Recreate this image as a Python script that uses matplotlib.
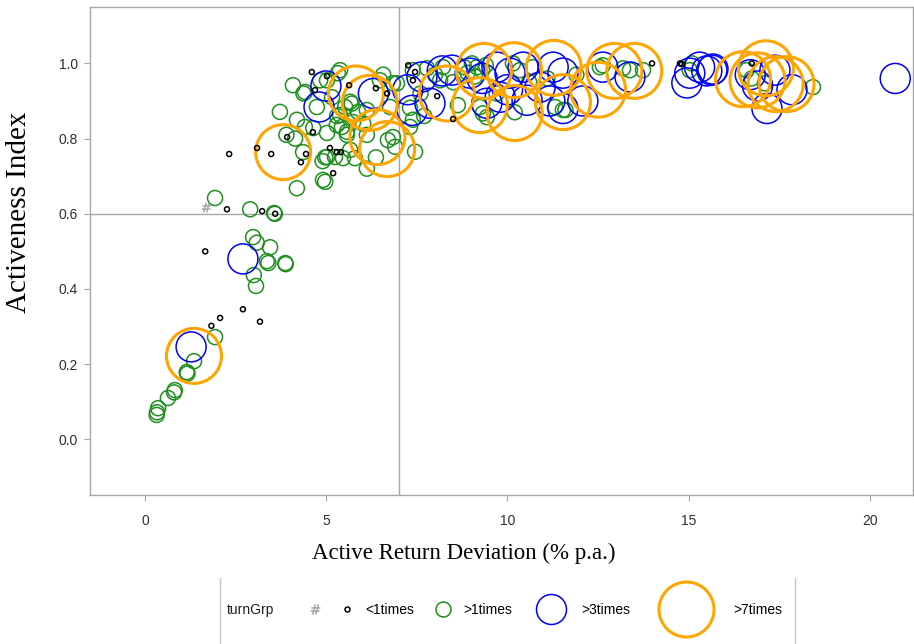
import numpy as np
import matplotlib
matplotlib.use('Agg')
import matplotlib.pyplot as plt
from matplotlib.lines import Line2D

# turnGrp groups: (active return deviation, activeness index)
miss_x = [1.68]
miss_y = [0.618]

lt1_x = [1.66, 1.83, 2.07, 2.70, 3.17, 2.26, 3.23, 3.59, 5.19, 2.32, 3.09, 3.48,
         3.92, 4.44, 4.30, 5.10, 5.29, 5.40, 4.60, 5.02, 5.63, 4.69, 6.37, 4.63,
         6.68, 7.26, 7.45, 7.39, 8.06, 8.50, 13.99, 14.76, 14.81, 16.74]
lt1_y = [0.500, 0.302, 0.323, 0.346, 0.313, 0.612, 0.607, 0.600, 0.708, 0.759, 0.775, 0.759,
         0.804, 0.759, 0.737, 0.775, 0.764, 0.764, 0.977, 0.966, 0.942, 0.929, 0.934, 0.817,
         0.920, 0.995, 0.977, 0.955, 0.913, 0.852, 1.000, 1.000, 0.998, 1.000]

gt1_x = [0.33, 0.36, 0.32, 0.63, 0.82, 0.80, 1.15, 1.17, 1.35, 1.93,
         2.98, 3.08, 3.45, 3.36, 3.40, 3.87, 3.88, 3.00, 3.06,
         2.90, 1.93, 3.56, 3.58, 4.19, 4.97,
         4.08, 4.41, 3.72, 4.19, 4.41, 4.64, 4.74, 5.02, 5.32, 5.16, 5.38, 5.29,
         5.57, 5.66, 5.88, 5.74, 6.02, 6.12, 6.48, 6.57, 6.76, 6.70, 6.90, 5.02,
         5.24, 4.36, 5.79, 6.12, 5.66, 6.37, 4.14, 3.90, 4.90, 4.37, 5.02, 5.30,
         5.52, 5.70, 5.43, 5.57, 6.12, 4.97, 5.46, 4.91, 5.38, 6.84, 4.83,
         6.95, 7.39, 7.78, 7.31, 7.39, 7.31, 7.45, 6.84, 8.22, 8.14, 8.63, 9.02,
         9.16, 9.30, 9.24, 9.32, 9.43, 10.20, 10.15, 10.34, 10.70, 11.53, 11.31, 12.63,
         13.19, 12.55, 13.38, 13.74, 15.09, 11.60, 15.03, 16.60, 16.74, 17.10, 18.43,
         8.90, 9.10, 9.40, 8.80, 7.60, 7.70, 8.00, 8.50, 9.70, 10.60, 11.10, 11.90]
gt1_y = [0.072, 0.083, 0.065, 0.110, 0.131, 0.125, 0.179, 0.175, 0.208, 0.272,
         0.538, 0.523, 0.511, 0.474, 0.469, 0.469, 0.466, 0.437, 0.408,
         0.612, 0.642, 0.602, 0.600, 0.668, 0.685,
         0.942, 0.924, 0.871, 0.850, 0.831, 0.828, 0.884, 0.955, 0.974, 0.910, 0.863, 0.836,
         0.818, 0.898, 0.871, 0.844, 0.840, 0.810, 0.955, 0.970, 0.884, 0.796, 0.778, 0.751,
         0.751, 0.764, 0.748, 0.720, 0.770, 0.750, 0.800, 0.810, 0.740, 0.920, 0.815, 0.860,
         0.884, 0.893, 0.831, 0.810, 0.876, 0.750, 0.748, 0.690, 0.982, 0.947, 0.955,
         0.947, 0.982, 0.987, 0.882, 0.850, 0.831, 0.765, 0.804, 0.990, 0.955, 0.889, 1.000,
         0.990, 0.982, 0.884, 0.867, 0.857, 0.870, 1.000, 0.982, 0.990, 0.876, 0.884, 0.995,
         0.987, 0.990, 0.982, 0.982, 1.000, 0.876, 0.982, 0.982, 0.960, 0.947, 0.937,
         0.975, 0.965, 0.995, 0.990, 0.920, 0.860, 0.970, 0.950, 0.920, 0.950, 0.960, 0.970]

gt3_x = [1.27, 2.70, 4.99, 4.80, 6.30, 7.64, 7.37, 7.86, 8.47, 8.97, 9.71, 10.07,
         9.80, 10.43, 10.54, 11.26, 11.53, 11.17, 12.08, 12.63, 13.38, 10.90, 9.43, 11.53,
         15.03, 15.30, 15.50, 15.67, 14.95, 15.64, 16.70, 17.38, 17.85, 17.16, 20.70, 16.90,
         7.25, 8.20, 9.30, 10.00]
gt3_y = [0.246, 0.480, 0.940, 0.884, 0.920, 0.964, 0.875, 0.894, 0.982, 0.974, 0.990, 0.974,
         0.910, 0.990, 0.902, 0.990, 0.974, 0.900, 0.900, 0.990, 0.964, 0.937, 0.894, 0.880,
         0.974, 0.990, 0.980, 0.985, 0.948, 0.982, 0.970, 0.982, 0.930, 0.880, 0.960, 0.940,
         0.930, 0.980, 0.960, 0.930]

gt7_x = [1.35, 3.81, 5.82, 6.20, 6.41, 6.68, 8.33, 9.35, 10.18, 10.20, 9.24, 11.28,
         11.53, 12.50, 12.95, 13.50, 16.50, 17.13, 16.90, 17.40, 17.70]
gt7_y = [0.222, 0.764, 0.920, 0.895, 0.804, 0.772, 0.920, 0.980, 0.982, 0.868, 0.889, 0.988,
         0.897, 0.930, 0.980, 0.980, 0.958, 0.987, 0.955, 0.945, 0.945]

group_labels = ['', '<1times', '>1times', '>3times', '>7times']

GRAY = '#a6a6a6'

fig = plt.figure(figsize=(9.14, 6.44), dpi=100)
ax = fig.add_axes([90/914, 149/644, 823/914, 488/644])

ax.axvline(7, color=GRAY, lw=1, zorder=1)
ax.axhline(0.6, color=GRAY, lw=1, zorder=1)

ax.scatter(gt1_x, gt1_y, s=117, facecolors='none', edgecolors='#1f8f1f', linewidths=1.1, zorder=3)
ax.scatter(gt3_x, gt3_y, s=467, facecolors='none', edgecolors='#0000ff', linewidths=1.1, zorder=4)
ax.scatter(gt7_x, gt7_y, s=1568, facecolors='none', edgecolors='#ffa500', linewidths=2.2, zorder=5)
ax.scatter(lt1_x, lt1_y, s=13, facecolors='none', edgecolors='black', linewidths=1.1, zorder=6)
ax.scatter(miss_x, miss_y, s=45, marker=r'$\#$', color='#a0a0a0', linewidths=0.3, zorder=6)

ax.set_xlim(-1.52, 21.19)
ax.set_ylim(-0.148, 1.15)
ax.set_xticks([0, 5, 10, 15, 20])
ax.set_yticks([0, 0.2, 0.4, 0.6, 0.8, 1.0])
ax.set_yticklabels(['0.0', '0.2', '0.4', '0.6', '0.8', '1.0'])
ax.tick_params(axis='both', direction='out', length=4.5, color=GRAY, labelsize=10,
               labelcolor='#303030')
ax.tick_params(axis='x', pad=9)
ax.tick_params(axis='y', pad=4)
for t in ax.get_xticklabels() + ax.get_yticklabels():
    t.set_family('Liberation Sans')
for sp in ax.spines.values():
    sp.set_color(GRAY)
    sp.set_linewidth(1)

ax.set_xlabel('Active Return Deviation (% p.a.)', family='Liberation Serif', fontsize=16.5)
ax.set_ylabel('Activeness Index', family='Liberation Serif', fontsize=21)
ax.xaxis.set_label_coords((464 - 90) / 823, -0.098)
ax.yaxis.set_label_coords(-0.0705, (495 - 212) / 488)

# legend strip below the plot
ly = 1 - 610/644
fig.add_artist(Line2D([220/914, 220/914], [0, 1 - 578/644], transform=fig.transFigure, color='#c8c8c8', lw=1))
fig.add_artist(Line2D([795/914, 795/914], [0, 1 - 578/644], transform=fig.transFigure, color='#c8c8c8', lw=1))
fig.text(227/914, ly, 'turnGrp', fontsize=10, family='Liberation Sans', va='center', color='#202020')

handles = [
    Line2D([], [], ls='none', marker=r'$\#$', ms=7, color='#a0a0a0', mew=0.3),
    Line2D([], [], ls='none', marker='o', ms=3.6, mfc='none', mec='black', mew=1.1),
    Line2D([], [], ls='none', marker='o', ms=10.8, mfc='none', mec='#1f8f1f', mew=1.1),
    Line2D([], [], ls='none', marker='o', ms=21.6, mfc='none', mec='#0000ff', mew=1.1),
    Line2D([], [], ls='none', marker='o', ms=39.6, mfc='none', mec='#ffa500', mew=2.2),
]
centers = [315, 347, 443, 551, 686]
text_starts = [330, 365, 463, 581, 733]
fs_px = 10 * 100 / 72
for h, lab, c, t in zip(handles, group_labels, centers, text_starts):
    hl = 2 * (t - c - 0.2 * fs_px) / fs_px
    x0 = c - hl * fs_px / 2
    fig.legend(handles=[h], labels=[lab], loc='center left',
               bbox_to_anchor=(x0/914, ly), frameon=False,
               handlelength=hl, handletextpad=0.2, borderpad=0, borderaxespad=0,
               prop={'family': 'Liberation Sans', 'size': 10})

plt.savefig('out.png')
plt.close()
